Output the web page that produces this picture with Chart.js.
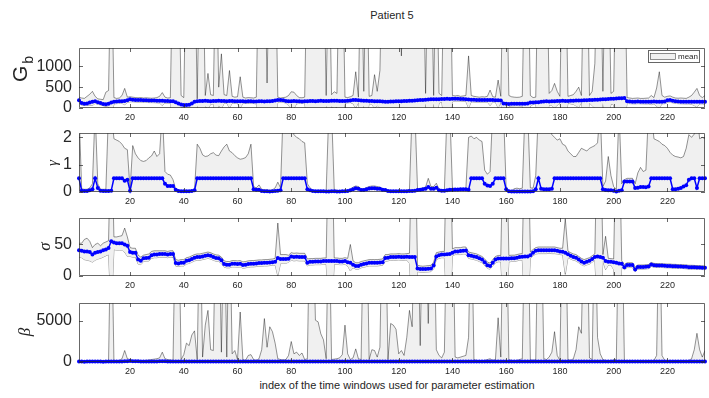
<!DOCTYPE html>
<html>
<head>
<meta charset="utf-8">
<script src="https://cdn.jsdelivr.net/npm/chart.js@4.4.1/dist/chart.umd.min.js"></script>
<style>
body { margin: 0; background: #fff; width: 709px; height: 398px; position: relative; overflow: hidden;
       font-family: "Liberation Sans", Arial, sans-serif; color: #262626; }
canvas { position: absolute; left: 0; }
#title { position: absolute; left: 292px; width: 200px; top: 9px; line-height: 13px; text-align: center; font-size: 11px; }
#xlab { position: absolute; left: 197px; width: 400px; top: 379px; line-height: 13px; text-align: center; font-size: 11px; }
</style>
</head>
<body>
<div id="title">Patient 5</div>
<canvas id="c1" width="709" height="84" style="top:40px"></canvas>
<canvas id="c2" width="709" height="83" style="top:125px"></canvas>
<canvas id="c3" width="709" height="82" style="top:210px"></canvas>
<canvas id="c4" width="709" height="84" style="top:294px"></canvas>
<div id="xlab">index of the time windows used for parameter estimation</div>
<script>
// tick labels
var xTicks = [20, 40, 60, 80, 100, 120, 140, 160, 180, 200, 220];
var gbTicks = [0, 500, 1000];
var gamTicks = [0, 1, 2];
var sigTicks = [0, 50];
var betaTicks = [0, 5000];

// G_b : mean, upper and lower bound (values above the axis are off-scale spikes)
var gbMean = [
  185,120,105,110,130,150,165,140,120,95,
  90,100,130,150,155,160,165,170,185,210,
  200,195,190,190,185,185,180,180,178,175,
  175,172,170,168,165,160,140,110,85,75,
  70,80,110,150,165,170,168,172,170,165,
  170,168,172,170,168,165,170,168,162,160,
  165,160,158,162,160,158,155,160,162,158,
  160,165,170,180,195,190,185,170,160,165,
  168,165,160,158,162,165,170,168,165,170,
  172,170,168,170,172,175,172,170,168,170,
  175,180,190,195,185,180,175,172,170,168,
  165,162,160,155,150,152,155,158,160,162,
  165,168,170,172,175,180,185,190,195,200,
  205,210,208,212,210,215,218,220,215,222,
  225,220,218,215,210,205,200,198,195,195,
  192,190,192,195,190,188,185,180,110,100,
  98,100,102,105,100,102,105,110,130,135,
  138,140,150,155,160,158,162,165,168,170,
  172,170,168,172,175,178,180,182,185,188,
  190,195,198,200,205,210,212,215,220,225,
  228,232,235,238,160,155,152,150,155,152,
  150,148,150,152,155,150,148,150,155,185,
  190,175,160,155,152,150,148,152,150,148,
  150,152,150,148];
var gbUpper = [
  260,240,230,280,330,400,280,220,210,200,
  380,420,4000,250,230,240,300,470,260,270,
  260,250,245,250,240,245,240,235,240,250,
  280,370,260,240,245,4000,4000,4000,300,250,
  4000,4000,4000,4000,220,4000,4000,300,830,320,
  300,4000,500,1300,320,300,900,280,260,270,
  750,260,240,250,245,240,260,4000,4000,4000,
  600,4000,4000,4000,260,240,250,260,300,390,
  380,300,250,245,260,4000,4000,4000,4000,4000,
  4000,4000,300,4000,320,390,350,4000,4000,260,
  250,270,300,870,260,4000,400,4000,280,300,
  800,400,900,4000,4000,4000,4000,4000,4000,4000,
  1250,4000,4000,4000,4000,4000,4000,4000,4000,350,
  4000,4000,300,4000,350,300,4000,4000,4000,300,
  290,300,280,290,300,1250,300,280,270,260,
  270,265,280,430,270,260,670,280,4000,4000,
  300,270,260,255,260,280,4000,4000,300,250,
  260,4000,4000,4000,4000,350,420,590,400,280,
  4000,4000,280,300,320,400,500,300,4000,4000,
  300,400,1070,4000,4000,400,4000,4000,350,400,
  4000,4000,4000,4000,250,240,230,235,240,230,
  230,235,240,300,250,480,870,300,260,280,
  290,260,240,235,240,235,230,260,300,380,
  470,300,250,300];
var gbLower = [
  130,70,60,60,70,60,110,90,75,55,
  40,30,-300,100,105,110,110,80,130,150,
  150,145,140,140,135,135,130,130,128,125,
  120,60,120,118,115,-300,-300,-300,20,20,
  -300,-300,-300,-300,60,-300,-300,40,-20,90,
  100,-300,60,-20,110,115,0,115,110,110,
  0,110,108,112,110,108,100,-300,-300,-300,
  20,-300,-300,-300,140,140,135,120,60,-15,
  -10,100,110,108,110,-300,-300,-300,-300,-300,
  -300,-300,60,-300,40,-10,30,-300,-300,120,
  125,130,100,0,130,-300,60,-300,110,80,
  0,60,0,-300,-300,-300,-300,-300,-300,-300,
  0,-300,-300,-300,-300,-300,-300,-300,-300,100,
  -300,-300,100,-300,120,150,-300,-300,-300,150,
  165,165,165,160,155,0,150,145,140,140,
  140,140,140,60,140,135,0,130,-300,-300,
  40,50,52,55,50,50,-300,-300,50,85,
  85,-300,-300,-300,-300,80,60,0,70,120,
  -300,-300,115,100,90,50,20,130,-300,-300,
  120,60,0,-300,-300,120,-300,-300,100,80,
  -300,-300,-300,-300,110,105,102,100,105,102,
  100,98,100,80,100,40,0,100,105,130,
  135,125,110,105,102,100,98,100,90,60,
  20,100,100,90];

// gamma : mean and upper bound (lower bound is 0)
var gamMean = [
  0.5,0.05,0.04,0.04,0.06,0.1,0.5,0.15,0.05,0.04,
  0.04,0.04,0.05,0.5,0.5,0.5,0.5,0.41,0.45,0.05,
  0.5,0.5,0.5,0.5,0.5,0.5,0.5,0.5,0.5,0.5,
  0.5,0.5,0.3,0.22,0.22,0.22,0.08,0.04,0.03,0.03,
  0.03,0.03,0.04,0.06,0.5,0.5,0.5,0.5,0.5,0.5,
  0.5,0.5,0.5,0.5,0.5,0.5,0.5,0.5,0.5,0.5,
  0.5,0.5,0.5,0.5,0.5,0.1,0.08,0.08,0.04,0.03,
  0.03,0.02,0.03,0.04,0.05,0.06,0.5,0.5,0.5,0.5,
  0.5,0.5,0.5,0.5,0.5,0.1,0.06,0.04,0.03,0.03,
  0.03,0.03,0.02,0.02,0.03,0.03,0.02,0.02,0.03,0.03,
  0.04,0.06,0.1,0.14,0.12,0.07,0.07,0.1,0.13,0.14,
  0.14,0.12,0.12,0.08,0.07,0.04,0.03,0.03,0.03,0.03,
  0.03,0.03,0.03,0.04,0.04,0.05,0.07,0.08,0.1,0.12,
  0.18,0.12,0.12,0.16,0.06,0.05,0.05,0.06,0.08,0.08,
  0.09,0.09,0.1,0.1,0.1,0.08,0.5,0.5,0.5,0.5,
  0.5,0.3,0.24,0.22,0.3,0.5,0.5,0.5,0.5,0.1,
  0.03,0.02,0.02,0.02,0.02,0.02,0.02,0.02,0.02,0.03,
  0.1,0.5,0.12,0.1,0.1,0.1,0.12,0.5,0.5,0.5,
  0.5,0.5,0.5,0.5,0.5,0.5,0.5,0.5,0.5,0.5,
  0.5,0.5,0.5,0.5,0.5,0.1,0.07,0.06,0.06,0.05,
  0.02,0.05,0.06,0.38,0.38,0.38,0.38,0.15,0.16,0.18,
  0.18,0.17,0.2,0.5,0.5,0.5,0.5,0.5,0.5,0.5,
  0.5,0.1,0.1,0.12,0.15,0.2,0.25,0.45,0.5,0.5,
  0.15,0.5,0.5,0.5];
var gamUpper = [
  3,0.12,0.1,0.1,0.15,0.3,3,0.3,0.1,0.1,
  0.1,3,3,1.95,1.9,1.85,1.75,1.6,1.55,0.1,
  1.7,1.4,1.25,1.15,1.12,1.15,1.25,1.32,1.5,1.3,
  1.4,3,0.75,0.65,0.62,0.45,0.1,0.06,0.05,0.05,
  0.05,0.05,0.06,0.08,1.75,1.6,1.36,1.3,1.32,1.4,
  1.44,1.35,1.33,1.5,1.65,1.75,1.5,1.44,1.33,1.25,
  1.2,1.22,1.26,1.4,1.75,0.2,0.15,0.26,0.1,0.08,
  0.08,0.06,0.08,0.15,0.36,0.15,3,3,3,3,
  2.1,2.0,1.95,1.85,1.8,0.3,0.15,0.06,0.05,0.05,
  0.05,0.05,0.04,3,3,0.1,0.05,0.05,0.05,0.05,
  0.06,0.1,0.18,0.22,0.2,0.12,0.12,0.16,0.2,0.22,
  0.22,0.2,0.18,0.12,0.1,0.06,0.05,0.05,0.05,0.05,
  0.05,0.05,0.06,0.1,3,3,0.12,0.12,0.15,0.18,
  0.5,0.2,0.2,0.32,0.1,0.08,0.08,3,3,0.15,
  0.12,0.12,0.12,0.13,0.13,2.0,2.05,1.95,2.0,1.9,
  1.85,0.8,0.65,0.75,3,3,3,3,3,0.12,
  0.06,0.05,0.12,0.14,0.12,0.14,3,3,0.15,0.14,
  0.6,3,3,3,3,3,2.1,2.0,1.9,1.95,
  1.75,1.7,1.5,1.4,1.3,1.3,1.45,1.6,1.55,1.5,
  1.6,1.65,1.7,1.8,3,0.2,0.4,1.3,0.6,0.2,
  0.1,3,0.3,0.45,0.5,0.5,0.5,0.3,0.7,0.9,
  0.75,0.8,3,3,1.95,1.9,1.85,1.75,1.7,1.6,
  1.45,1.35,1.3,1.28,1.25,1.3,1.6,2.1,2.0,2.12,
  3,1.95,2.0,1.95];

// sigma : mean, upper and lower bound
var sigMean = [
  40.7,40,39,39,38,34,37,38,39,41,
  42,44.5,55,53,52,52,52,50,48,38,
  37,37,26,24,28,28.5,29,33,34,34,
  35,35,35,34,35,35,20.7,20,21,21,
  24,25,27,29,30,30,31,32,33,32,
  30,28.5,28,25,19,18,18,19.4,19.4,19,
  19.4,17.4,18,19,19.5,19.5,20,20.5,20.5,21,
  21,21.5,22,22.6,28.5,27,27,27,27.5,31,
  30,30.5,30,30,30,21,22.6,22.6,23,23,
  23,23.6,23.6,23.6,23.6,23.6,23.6,23,23,23.6,
  22,21,18,16,15.8,18,19,20,21,21,
  21,21,21.5,22,28.5,29,30,30,30,30.5,
  30,30,30.5,30,30,30,11.8,11.3,11,11.3,
  11.5,12,16.5,31,33,34,34,34.5,35,37,
  39,39,39.5,40,40.5,33,32,31,30,28,
  26,22,17,15.8,21,26,27.6,27.6,27.6,27.6,
  27.6,28,28,29,30,30.5,31,31,33,37,
  40,40.7,40.7,40.7,40.7,41,40.7,40.7,40,39,
  38.6,37,34.4,32,30,29,26,23,21,22.6,
  24,27,30,31,30,29,23.6,22.6,22.6,22,
  21,20,19.4,14,17.4,17.4,17.4,10.5,14.2,14.2,
  14.2,14.5,15,18.4,17,16.8,16.5,16.5,16.2,16,
  16,15.5,15.5,15,15,14.8,14.5,14,14,13.8,
  13.5,13.4,13.2,13.1];
var sigUpper = [
  52,52,58,60,55,45,50,52,48,52,
  54,56,250,62,62,63,64,76,62,45,
  44,44,33,30,33,34,35,39,40,40,
  40,40,40,39,40,40,26,25,26,26,
  29,30,32,34,35,35,36,37,38,37,
  35,33.5,33,30,24,23,23,24.4,24.4,24,
  24.4,22.4,23,24,24.5,24.5,25,25.5,25.5,26,
  26,26.5,27,28,84,34,34,34,33,37,
  36,36.5,36,36,36,27,27.6,27.6,28,28,
  28,28.6,28.6,250,250,28.6,28.6,28,28,29,
  28,50,24,21,21,23,24,25,26,26,
  26,26,26.5,27,34,34,35,35,35,35.5,
  35,35,35.5,36,250,250,17,16,15.5,16,
  16.5,17,22,37,38,39,39,250,250,43,
  45,45,45,46,46,38,37,36,35,33,
  31,27,22,20.5,26,31,32.6,32.6,250,250,
  32.6,33,33,34,35,35.5,250,250,38,42,
  45,46,46,46,46,46,46,46,45,44,
  44,91,39.4,37,35,34,31,28,26,27.6,
  29,32,35,250,250,34,63,28,27.6,27,
  250,250,24.4,18,21,21,21,14,17.5,17.5,
  17.5,17.8,18.3,21.5,20,19.8,19.5,19.5,19.2,19,
  19,18.5,18.5,18,18,17.8,17.5,17,17,16.8,
  16.5,16.4,16.2,16];
var sigLower = [
  30,29,26,25,24,22,25,27,28,30,
  32,34,-60,42,41,41,41,38,31,31,
  30,30,19,18,23,23.5,24,28,29,29,
  30,30,30,29,30,30,15.7,15,16,16,
  19,20,22,24,25,25,26,27,28,27,
  25,23.5,23,20,14,13,13,14.4,14.4,14,
  14.4,12.4,13,14,14.5,14.5,15,15.5,15.5,16,
  16,16.5,17,17.6,0,20,20,20,22,25,
  24,24.5,24,24,24,16,17.6,17.6,18,18,
  18,18.6,18.6,-60,-60,18.6,18.6,18,18,18.6,
  16,8,13,11,10.8,13,14,15,16,16,
  16,16,16.5,17,23,24,25,25,25,25.5,
  25,25,25.5,20,-60,-60,6.8,6.3,6,6.3,
  6.5,7,11.5,26,28,29,29,-60,-60,32,
  34,34,34,35,35,28,27,26,25,23,
  21,17,12,11,16,21,22.6,22.6,-60,-60,
  22.6,23,23,24,25,25.5,-60,-60,28,32,
  35,35.5,35.5,35.5,35.5,36,35.5,35.5,35,34,
  33.6,2.6,29.4,27,25,24,21,18,16,17.6,
  19,22,25,-60,-60,24,10,17,17.6,10,
  -60,-60,14.4,10,13.4,13.4,13.4,7,11,11,
  11,11.2,11.7,15.3,14,13.8,13.5,13.5,13.2,13,
  13,12.5,12.5,12,12,11.8,11.5,11,11,10.8,
  10.5,10.4,10.2,10.1];

// beta : mean and upper bound (lower bound is 0)
var betaMean = [
  60,50,45,55,50,48,52,55,50,45,
  50,55,60,58,55,60,70,80,90,110,
  100,90,80,70,65,60,62,65,70,75,
  80,90,85,70,60,55,60,55,50,52,
  55,60,58,55,52,50,55,60,65,60,
  58,62,65,60,55,52,50,55,58,60,
  62,60,55,50,52,55,58,60,62,65,
  68,70,65,60,55,52,50,55,60,62,
  65,60,58,55,52,55,60,62,60,58,
  55,52,50,55,58,60,62,60,58,55,
  52,50,55,58,60,62,65,60,55,52,
  50,52,55,58,60,62,60,58,55,52,
  55,58,60,65,70,68,65,62,60,58,
  55,52,50,55,58,60,62,60,58,55,
  52,50,48,50,52,55,58,60,58,55,
  52,50,52,55,58,60,58,55,52,50,
  48,50,52,55,58,60,58,55,52,50,
  52,55,58,60,62,60,58,55,52,50,
  52,55,58,60,58,55,52,50,52,55,
  58,60,62,60,58,55,52,50,52,55,
  58,60,58,55,52,50,48,50,52,55,
  58,60,58,55,52,50,52,55,58,60,
  58,55,52,50,48,50,52,55,58,60,
  58,55,52,50];
var betaUpper = [
  120,110,100,110,120,100,110,120,110,100,
  110,150,20000,130,150,200,400,1400,400,300,
  200,150,130,150,180,200,250,300,350,400,
  500,1200,400,300,250,200,20000,20000,300,900,
  2300,2000,3300,3800,300,20000,600,4500,6300,1500,
  1400,20000,20000,1200,20000,600,20000,1000,1400,300,
  6100,300,200,800,900,300,200,400,1500,5300,
  1800,4300,3700,2300,400,300,250,300,800,2500,
  1000,1200,800,1100,300,400,20000,20000,5100,4900,
  3450,2700,400,20000,300,350,400,500,900,4500,
  1000,300,500,1600,400,300,20000,20000,300,1500,
  1400,600,1800,20000,20000,300,4700,4500,4000,1000,
  1400,800,3000,6300,4300,20000,20000,2000,20000,20000,
  4700,20000,20000,1500,800,500,1200,20000,20000,20000,
  600,500,600,700,800,3000,20000,300,200,150,
  150,200,300,400,200,300,5400,600,20000,20000,
  300,200,150,200,300,400,20000,20000,300,200,
  300,20000,20000,400,300,600,1200,3700,800,200,
  20000,20000,300,200,400,1500,4300,3500,20000,20000,
  500,300,20000,3000,1000,300,200,150,200,250,
  300,20000,20000,200,150,120,100,120,150,120,
  100,120,130,150,200,800,20000,800,200,150,
  130,120,110,100,120,130,150,200,400,1500,
  3500,1500,600,1400];

var idx = gbMean.map(function (v, i) { return i + 1; });

var ink = '#262626';

function drawYLabel(ctx, lab) {
    ctx.save();
    ctx.translate(lab.x, lab.y);
    ctx.rotate(-Math.PI / 2);
    ctx.fillStyle = ink;
    if (lab.sub) {
        ctx.font = lab.font;
        ctx.textAlign = 'left';
        ctx.textBaseline = 'alphabetic';
        ctx.fillText(lab.text, 0, 0);
        var w = ctx.measureText(lab.text).width;
        ctx.font = lab.subFont;
        ctx.fillText(lab.sub, w + 2, 6);
    } else {
        ctx.font = lab.font;
        ctx.textAlign = 'center';
        ctx.textBaseline = 'middle';
        ctx.fillText(lab.text, 0, 0);
    }
    ctx.restore();
}

// axes box, inward ticks, y label and legend
function framePlugin(lab, legend) {
    return {
        id: 'frame',
        afterDraw: function (chart) {
            var ctx = chart.ctx, a = chart.chartArea;
            var sx = chart.scales.x, sy = chart.scales.y;
            ctx.save();
            ctx.strokeStyle = ink;
            ctx.lineWidth = 0.7;
            ctx.beginPath();
            ctx.rect(a.left + 0.5, a.top + 0.5, a.right - a.left - 1, a.bottom - a.top - 1);
            sx.ticks.forEach(function (t) {
                var x = Math.round(sx.getPixelForValue(t.value)) + 0.5;
                ctx.moveTo(x, a.top); ctx.lineTo(x, a.top + 4);
                ctx.moveTo(x, a.bottom); ctx.lineTo(x, a.bottom - 4);
            });
            sy.ticks.forEach(function (t) {
                var y = Math.round(sy.getPixelForValue(t.value)) + 0.5;
                ctx.moveTo(a.left, y); ctx.lineTo(a.left + 4, y);
                ctx.moveTo(a.right, y); ctx.lineTo(a.right - 4, y);
            });
            ctx.stroke();
            if (legend) {
                var bx = a.right - 57, by = a.top + 2;
                ctx.fillStyle = '#fff';
                ctx.fillRect(bx, by, 51, 12);
                ctx.strokeStyle = '#666';
                ctx.lineWidth = 1;
                ctx.strokeRect(bx + 0.5, by + 0.5, 51, 12);
                ctx.fillStyle = '#f0f0f0';
                ctx.fillRect(bx + 2, by + 3, 25, 6);
                ctx.strokeStyle = '#444';
                ctx.lineWidth = 0.6;
                ctx.strokeRect(bx + 2.5, by + 3.5, 25, 6);
                ctx.fillStyle = ink;
                ctx.font = '8px "Liberation Sans", Arial, sans-serif';
                ctx.textAlign = 'left';
                ctx.textBaseline = 'middle';
                ctx.fillText('mean', bx + 30, by + 6.5);
            }
            ctx.restore();
            drawYLabel(ctx, lab);
        }
    };
}

function plain(v) { return String(v); }

function makePanel(id, padTop, yMax, yTicks, mean, upper, lower, lab, legend) {
    var sets = [{
        data: mean,
        borderColor: '#0000ff',
        backgroundColor: '#0000ff',
        borderWidth: 1.5,
        pointRadius: 2,
        pointBorderWidth: 0,
        pointBackgroundColor: '#0000ff',
        fill: false,
        clip: false
    }, {
        data: upper,
        borderColor: 'rgba(0,0,0,0.6)',
        borderWidth: 0.7,
        pointRadius: 0,
        backgroundColor: '#f0f0f0',
        fill: lower ? 2 : 'origin'
    }];
    if (lower) {
        sets.push({
            data: lower,
            borderColor: 'rgba(0,0,0,0.6)',
            borderWidth: 0.7,
            pointRadius: 0,
            fill: false
        });
    }
    new Chart(document.getElementById(id), {
        type: 'line',
        data: { labels: idx, datasets: sets },
        options: {
            responsive: false,
            devicePixelRatio: 1,
            animation: false,
            layout: { padding: { top: padTop, right: 1, left: 0, bottom: 0 } },
            elements: { line: { tension: 0 } },
            plugins: { legend: { display: false }, tooltip: { enabled: false } },
            scales: {
                x: {
                    type: 'linear', min: 1, max: 234,
                    grid: { display: false, drawTicks: false },
                    border: { display: false },
                    afterBuildTicks: function (s) { s.ticks = xTicks.map(function (v) { return { value: v }; }); },
                    afterFit: function (s) { s.height = 16; s.paddingLeft = 0; s.paddingRight = 0; },
                    ticks: { autoSkip: false, maxRotation: 0, padding: 4, color: ink, callback: plain,
                             font: { family: '"Liberation Sans", Arial, sans-serif', size: 9 } }
                },
                y: {
                    type: 'linear', min: 0, max: yMax,
                    grid: { display: false, drawTicks: false },
                    border: { display: false },
                    afterBuildTicks: function (s) { s.ticks = yTicks.map(function (v) { return { value: v }; }); },
                    afterFit: function (s) { s.width = 79; s.paddingTop = 0; s.paddingBottom = 0; },
                    ticks: { padding: 7, color: ink, callback: plain,
                             font: { family: '"Liberation Sans", Arial, sans-serif', size: 16 } }
                }
            }
        },
        plugins: [framePlugin(lab, legend)]
    });
}

makePanel('c1', 8, 1440, gbTicks, gbMean, gbUpper, gbLower,
    { text: 'G', sub: 'b', x: 26.5, y: 42, font: '21px "Liberation Sans", Arial, sans-serif',
      subFont: '14px "Liberation Sans", Arial, sans-serif' }, true);
makePanel('c2', 8, 2.16, gamTicks, gamMean, gamUpper, null,
    { text: 'γ', x: 53, y: 38, font: 'italic 15px "Liberation Serif", serif' }, false);
makePanel('c3', 8, 92, sigTicks, sigMean, sigUpper, sigLower,
    { text: 'σ', x: 46, y: 36.5, font: 'italic 17px "Liberation Serif", serif' }, false);
makePanel('c4', 9, 7200, betaTicks, betaMean, betaUpper, null,
    { text: 'β', x: 26, y: 38, font: 'italic 17px "Liberation Serif", serif' }, false);
</script>
</body>
</html>
